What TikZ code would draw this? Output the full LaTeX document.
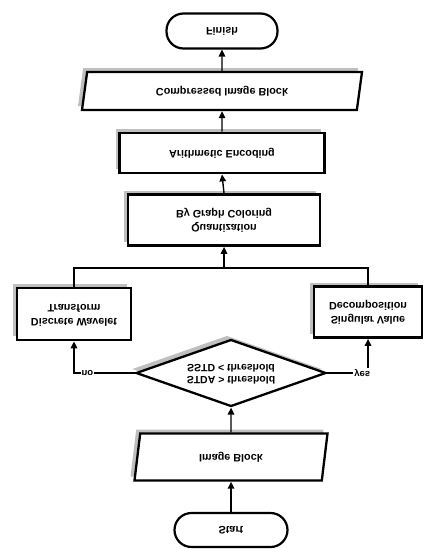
\documentclass[tikz,border=0pt]{standalone}
\usepackage{fontspec}
\setmainfont{Liberation Sans}
\usepackage{graphicx}
\usetikzlibrary{shapes.geometric,arrows.meta,shadows}
\newcommand{\flipt}[1]{\scalebox{1}[-1]{#1}}
\begin{document}
\begin{tikzpicture}[x=1pt,y=-1pt,
  base/.style={draw=black, fill=white, align=center, inner sep=2pt,
    font=\bfseries\fontsize{10.8}{14}\selectfont},
  shad/.style={drop shadow={shadow xshift=-4pt, shadow yshift=4pt, fill=gray!50, opacity=1}},
  term/.style={base, line width=2.2pt, rounded corners=17pt},
  procbox/.style={base, shad, line width=2.8pt},
  iobox/.style={base, shad, line width=2.3pt, shape=trapezium, trapezium stretches body},
  decbox/.style={base, shad, line width=2.3pt, shape=diamond, inner sep=0pt,
    font=\bfseries\fontsize{10.5}{12}\selectfont},
  arr/.style={line width=1.4pt, -{Triangle[length=7pt,width=6.5pt]}},
  ln/.style={line width=1.4pt},
  lbl/.style={fill=white, inner sep=1pt, font=\bfseries\fontsize{9.5}{10}\selectfont}]
\useasboundingbox (0,0) rectangle (424,549);
\fill[white] (0,0) rectangle (424,549);

\node[term, minimum width=111pt, minimum height=35pt] (fin) at (222,31) {\flipt{Finish}};
\node[iobox, minimum width=280pt, minimum height=38pt,
      trapezium left angle=70, trapezium right angle=110] (cib) at (222,91) {\flipt{Compressed Image Block}};
\node[procbox, minimum width=205pt, minimum height=40pt] (ae) at (222,153) {\flipt{Arithmetic Encoding}};
\node[procbox, minimum width=192pt, minimum height=51pt] (qg) at (224,220)
  {\flipt{\begin{tabular}{@{}c@{}}Quantization\\By Graph Coloring\end{tabular}}};
\node[procbox, minimum width=114pt, minimum height=52pt] (dwt) at (74,314)
  {\flipt{\begin{tabular}{@{}c@{}}Discrete Wavelet\\Transform\end{tabular}}};
\node[procbox, minimum width=108pt, minimum height=51pt] (svd) at (368,312)
  {\flipt{\begin{tabular}{@{}c@{}}Singular Value\\Decomposition\end{tabular}}};
\node[decbox, minimum width=190pt, minimum height=67pt, shape aspect=2.9] (dec) at (231,373)
  {\flipt{\begin{tabular}{@{}c@{}}STDA > threshold\\SSTD < threshold\end{tabular}}};
\node[iobox, minimum width=193pt, minimum height=47pt,
      trapezium left angle=68, trapezium right angle=112] (ib) at (231,457) {\flipt{Image Block}};
\node[term, minimum width=113pt, minimum height=34pt] (st) at (231,530) {\flipt{Start}};

\coordinate (m) at (224,268);

\draw[arr] (st) -- (ib);
\draw[arr] (ib) -- (dec);
\draw[arr] (dec.west) -| node[lbl, pos=0.39] {\flipt{no}} (dwt.south);
\draw[arr] (dec.east) -| node[lbl, pos=0.43] {\flipt{yes}} (svd.south);
\draw[ln] (dwt.north) |- (m);
\draw[ln] (svd.north) |- (m);
\draw[arr] (m) -- (qg.south);
\draw[arr] (qg.north) -- (ae.south);
\draw[arr] (ae.north) -- (cib.south);
\draw[arr] (cib.north) -- (fin.south);
\end{tikzpicture}
\end{document}
